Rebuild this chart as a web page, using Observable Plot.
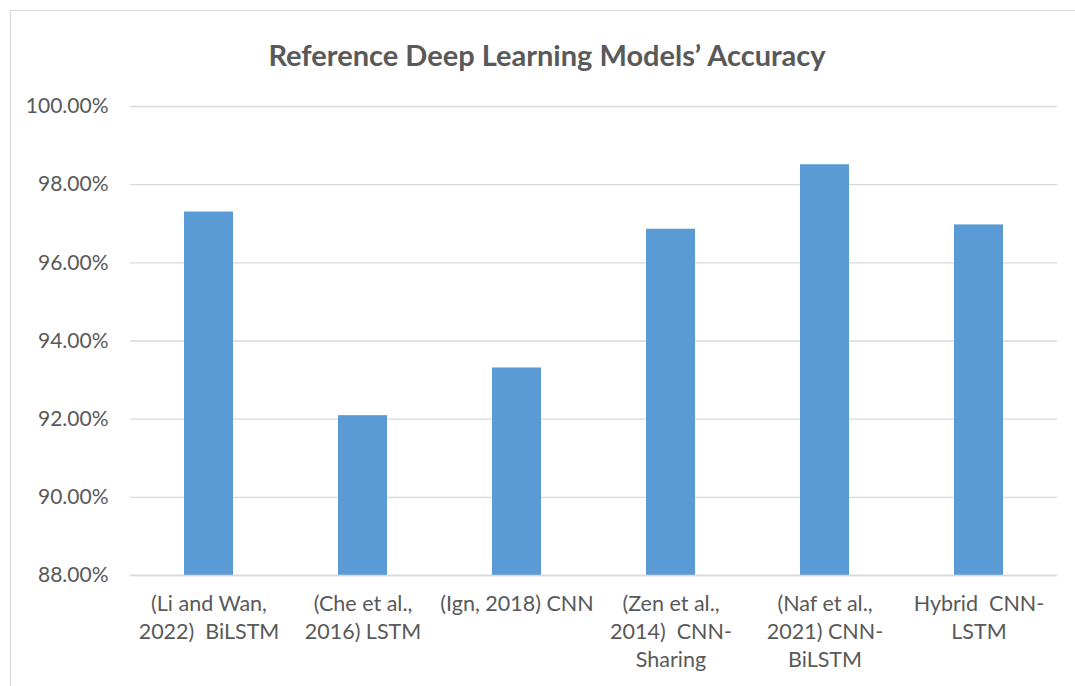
<!DOCTYPE html>
<html><head><meta charset="utf-8">
<script src="https://cdn.jsdelivr.net/npm/d3@7"></script>
<script src="https://cdn.jsdelivr.net/npm/@observablehq/plot@0.6"></script>
<style>
body{margin:0;background:#fff;width:1075px;height:686px;overflow:hidden;position:relative;}
#frame{position:absolute;left:10px;top:10px;width:1090px;height:700px;border:1px solid #d9d9d9;box-sizing:border-box;}
#title{position:absolute;left:547px;top:39px;transform:translateX(-50%);white-space:nowrap;font-family:Lato,sans-serif;font-weight:bold;font-size:29px;line-height:32px;color:#595959;}
#chart{position:absolute;left:0;top:80px;}
</style>
</head><body>
<div id="frame"></div>
<div id="title">Reference Deep Learning Models’ Accuracy</div>
<div id="chart"></div>
<script>
const models = ["(Li and Wan, 2022) BiLSTM", "(Che et al., 2016) LSTM", "(Ign, 2018) CNN", "(Zen et al., 2014) CNN-Sharing", "(Naf et al., 2021) CNN-BiLSTM", "Hybrid CNN-LSTM"];
const modelLabels = ["(Li and Wan,\n2022)  BiLSTM", "(Che et al.,\n2016) LSTM", "(Ign, 2018) CNN", "(Zen et al.,\n2014)  CNN-\nSharing", "(Naf et al.,\n2021) CNN-\nBiLSTM", "Hybrid  CNN-\nLSTM"];
const accuracy = [97.30, 92.09, 93.31, 96.86, 98.51, 96.97];
const yTicks = [88, 90, 92, 94, 96, 98, 100];
const yBase = 88;

const data = models.map((m, i) => ({model: m, acc: accuracy[i], base: yBase}));
const labelOf = new Map(models.map((m, i) => [m, modelLabels[i]]));

const chart = Plot.plot({
  width: 1075,
  height: 606,
  marginLeft: 130,
  marginRight: 18,
  marginTop: 26,
  marginBottom: 111,
  style: {fontFamily: "Lato, sans-serif", fontSize: "21px", color: "#595959", background: "transparent"},
  x: {domain: models, paddingInner: 0.682, paddingOuter: 0.341},
  y: {domain: [yBase, 100]},
  marks: [
    Plot.gridY(yTicks, {stroke: "#d9d9d9", strokeOpacity: 1, strokeWidth: 1.3}),
    Plot.barY(data, {x: "model", y1: "base", y2: "acc", fill: "#5B9BD5"}),
    Plot.ruleY([yBase], {stroke: "#d9d9d9", strokeWidth: 1.3}),
    Plot.axisY(yTicks, {tickSize: 0, tickPadding: 22, label: null, tickFormat: d => d.toFixed(2) + "%", fill: "#595959", fontSize: 21}),
    Plot.axisX({tickSize: 0, tickPadding: 15, label: null, tickFormat: d => labelOf.get(d), lineHeight: 1.32, fill: "#595959", fontSize: 21.5})
  ]
});
document.getElementById("chart").append(chart);
</script>
</body></html>
